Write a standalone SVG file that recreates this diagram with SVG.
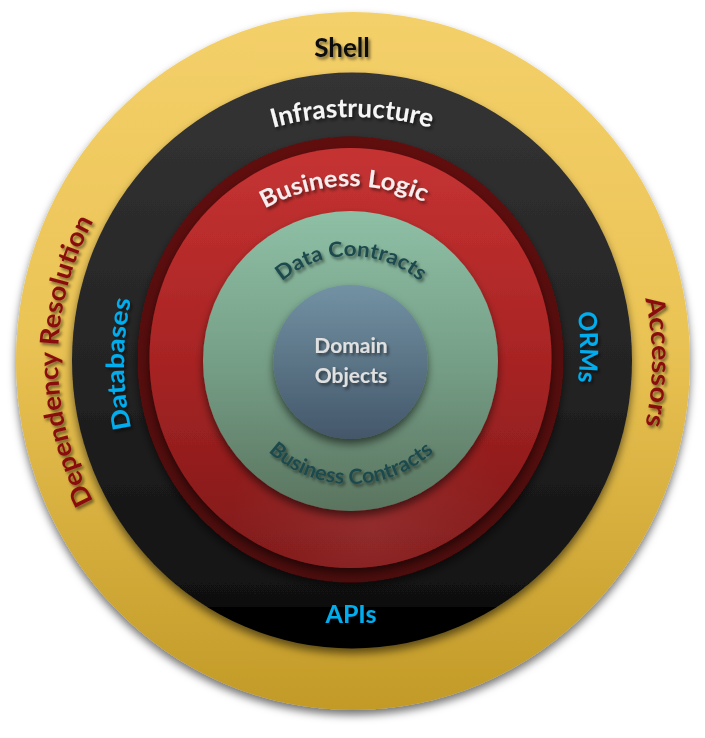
<svg xmlns="http://www.w3.org/2000/svg" xmlns:xlink="http://www.w3.org/1999/xlink" width="705" height="738" viewBox="0 0 705 738">
  <defs>
    <linearGradient id="gShell" x1="0" y1="0" x2="0" y2="1">
      <stop offset="0" stop-color="#f4d06a"/>
      <stop offset="0.45" stop-color="#ebc456"/>
      <stop offset="1" stop-color="#c29a27"/>
    </linearGradient>
    <linearGradient id="gInfra" x1="0" y1="0" x2="0" y2="1">
      <stop offset="0" stop-color="#343434"/>
      <stop offset="0.5" stop-color="#242424"/>
      <stop offset="0.928" stop-color="#101010"/>
      <stop offset="0.928" stop-color="#020202"/>
      <stop offset="1" stop-color="#000000"/>
    </linearGradient>
    <linearGradient id="gRim" x1="0" y1="0" x2="0" y2="1">
      <stop offset="0" stop-color="#600d0d"/>
      <stop offset="1" stop-color="#4c0909"/>
    </linearGradient>
    <linearGradient id="gLogic" x1="0" y1="0" x2="0" y2="1">
      <stop offset="0" stop-color="#c63333"/>
      <stop offset="0.5" stop-color="#a82424"/>
      <stop offset="1" stop-color="#7e1818"/>
    </linearGradient>
    <radialGradient id="gLogicGlow" cx="0.55" cy="0.9" r="0.35">
      <stop offset="0" stop-color="#a04040" stop-opacity="0.45"/>
      <stop offset="1" stop-color="#a04040" stop-opacity="0"/>
    </radialGradient>
    <linearGradient id="gContracts" x1="0" y1="0" x2="0" y2="1">
      <stop offset="0" stop-color="#8ec0a6"/>
      <stop offset="0.5" stop-color="#769f87"/>
      <stop offset="1" stop-color="#5a745f"/>
    </linearGradient>
    <linearGradient id="gDomain" x1="0" y1="0" x2="0" y2="1">
      <stop offset="0" stop-color="#7292a3"/>
      <stop offset="1" stop-color="#44576a"/>
    </linearGradient>

    <filter id="ringShadow" x="-10%" y="-10%" width="120%" height="125%">
      <feDropShadow dx="0" dy="5" stdDeviation="4" flood-color="#000" flood-opacity="0.55"/>
    </filter>
    <filter id="textShadow" x="-10%" y="-30%" width="120%" height="160%">
      <feDropShadow dx="2" dy="2.5" stdDeviation="1.8" flood-color="#000" flood-opacity="0.5"/>
    </filter>

    <!-- baselines for the curved labels -->
    <path id="pInfra" d="M 56,413 A 296 296 0 0 1 648,413"/>
    <path id="pLogic" d="M 176,361 A 175 175 0 0 1 526,361"/>
    <path id="pDataC" d="M 245,362 A 106 106 0 0 1 457,362"/>
    <path id="pBizC" d="M 229,362 A 122 122 0 0 0 473,362"/>
    <path id="pDepRes" d="M 352,655 A 294 294 0 0 1 352,67"/>
    <path id="pAccess" d="M 352,62 A 300 300 0 0 1 352,662"/>
    <path id="pDb" d="M 149.4,484 A 296 296 0 0 1 149.4,244"/>
    <path id="pOrm" d="M 554.6,227 A 296 296 0 0 1 554.6,467"/>

    <style>
      text { font-family: Lato, "Open Sans", "Liberation Sans", sans-serif; font-weight: bold; filter: url(#textShadow); }
      .ring { filter: url(#ringShadow); }
      .shell-t { fill: #111111; font-size: 26px; }
      .shell-side { fill: #8a0f0f; font-size: 26px; }
      .infra-t { fill: #f6f6f6; font-size: 26px; }
      .infra-side { fill: #00adee; font-size: 25px; }
      .logic-t { fill: #f6eeee; font-size: 24px; }
      .contract-t { fill: #1f4a4d; font-size: 21px; }
      .domain-t { fill: #e0e0e0; font-size: 21px; }
    </style>
  </defs>

  <!-- outer ring -->
  <g id="shell">
    <ellipse class="ring" cx="353" cy="361" rx="337" ry="349" fill="url(#gShell)"/>
    <text class="shell-t" x="342" y="57" text-anchor="middle">Shell</text>
    <text class="shell-side" text-anchor="middle"><textPath xlink:href="#pDepRes" startOffset="50%" textLength="292" lengthAdjust="spacingAndGlyphs">Dependency Resolution</textPath></text>
    <text class="shell-side" text-anchor="middle"><textPath xlink:href="#pAccess" startOffset="50%" textLength="128" lengthAdjust="spacingAndGlyphs">Accessors</textPath></text>
  </g>

  <!-- infrastructure ring -->
  <g id="infrastructure">
    <ellipse class="ring" cx="352" cy="360.5" rx="280" ry="288" fill="url(#gInfra)"/>
    <text class="infra-t" text-anchor="middle"><textPath xlink:href="#pInfra" startOffset="50%" textLength="160" lengthAdjust="spacingAndGlyphs">Infrastructure</textPath></text>
    <text class="infra-side" text-anchor="middle"><textPath xlink:href="#pDb" startOffset="50%" textLength="130" lengthAdjust="spacingAndGlyphs">Databases</textPath></text>
    <text class="infra-side" text-anchor="middle"><textPath xlink:href="#pOrm" startOffset="50%" textLength="70" lengthAdjust="spacingAndGlyphs">ORMs</textPath></text>
    <text class="infra-side" x="351" y="623" text-anchor="middle">APIs</text>
  </g>

  <!-- business logic ring -->
  <g id="business-logic">
    <ellipse class="ring" cx="350.5" cy="359.5" rx="213" ry="223" fill="url(#gRim)"/>
    <ellipse cx="350.5" cy="358" rx="201" ry="210" fill="url(#gLogic)" filter="url(#ringShadow)"/>
    <ellipse cx="350.5" cy="358" rx="201" ry="210" fill="url(#gLogicGlow)"/>
    <text class="logic-t" text-anchor="middle"><textPath xlink:href="#pLogic" startOffset="48.7%" textLength="166" lengthAdjust="spacingAndGlyphs">Business Logic</textPath></text>
  </g>

  <!-- contracts ring -->
  <g id="contracts">
    <ellipse class="ring" cx="350.5" cy="361" rx="147.5" ry="150" fill="url(#gContracts)"/>
    <text class="contract-t" text-anchor="middle"><textPath xlink:href="#pDataC" startOffset="50%" textLength="150" lengthAdjust="spacingAndGlyphs">Data Contracts</textPath></text>
    <text class="contract-t" text-anchor="middle"><textPath xlink:href="#pBizC" startOffset="50%" textLength="182" lengthAdjust="spacingAndGlyphs">Business Contracts</textPath></text>
  </g>

  <!-- core -->
  <g id="domain-objects">
    <ellipse class="ring" cx="350.5" cy="362" rx="77" ry="77" fill="url(#gDomain)"/>
    <text class="domain-t" x="351" y="353" text-anchor="middle">Domain</text>
    <text class="domain-t" x="351" y="383" text-anchor="middle">Objects</text>
  </g>

  <g id="connectors"/>
</svg>
